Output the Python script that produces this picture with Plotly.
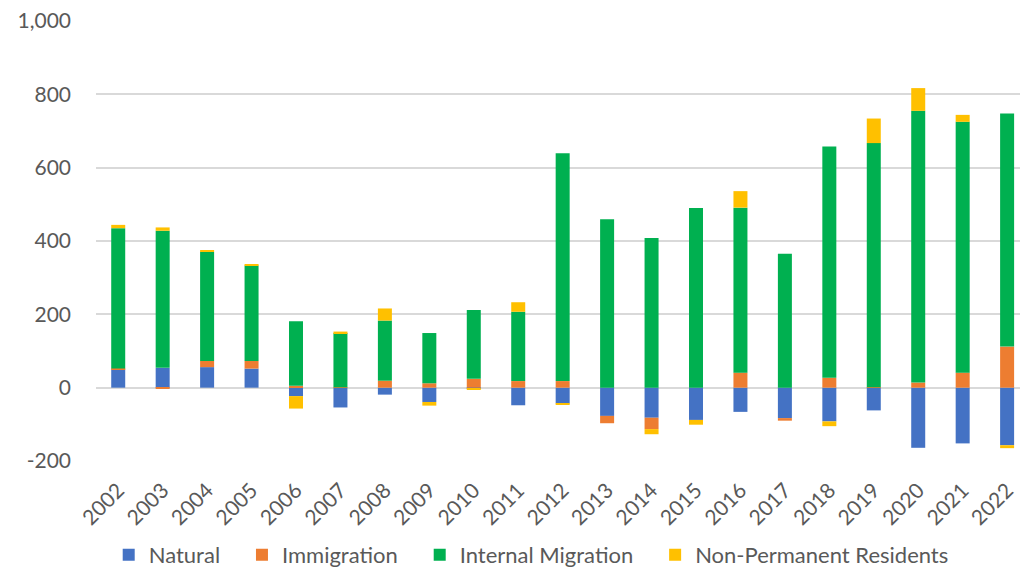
import plotly.graph_objects as go

# Components of population change by year (thousands)
years = [str(y) for y in range(2002, 2023)]
natural = [50, 54, 56, 52, -23, -54, -19, -39, -1, -48, -43, -77, -82, -88, -66, -83, -92, -62, -164, -152, -157]
immigration = [2, -3, 17, 21, 5, 1, 19, 12, 24, 18, 18, -20, -31, 0, 41, -7, 27, 1, 14, 41, 112]
internal_migration = [383, 374, 298, 260, 176, 148, 164, 137, 188, 189, 621, 459, 408, 490, 450, 365, 631, 666, 741, 684, 636]
non_permanent = [9, 9, 3, 3, -34, 4, 33, -10, -5, 26, -2, 0, -14, -13, 45, 0, -13, 67, 62, 19, -8]

series = [
    ("Natural", natural, "#4472C4"),
    ("Immigration", immigration, "#ED7D31"),
    ("Internal Migration", internal_migration, "#00B050"),
    ("Non-Permanent Residents", non_permanent, "#FFC000"),
]

FONT = "Lato"
GREY = "#595959"
PAD = "\u00a0" * 3

fig = go.Figure()
for i, (name, vals, color) in enumerate(series):
    label = name + (PAD if i < len(series) - 1 else "")
    fig.add_trace(go.Bar(
        x=years, y=vals, name=label,
        marker=dict(color=color, line=dict(width=0)),
    ))

fig.update_layout(
    width=1020, height=568,
    margin=dict(l=96, r=0, t=21, b=107, autoexpand=False),
    barmode="relative",
    bargap=0.685,
    plot_bgcolor="white",
    paper_bgcolor="white",
    font=dict(family=FONT, size=21, color=GREY),
    showlegend=True,
    legend=dict(
        orientation="h",
        x=0.471, xanchor="center",
        y=-0.166, yanchor="top",
        font=dict(family=FONT, size=22, color=GREY),
        itemwidth=30,
        traceorder="normal",
    ),
    xaxis=dict(
        type="category",
        range=[-0.5, 20.29],
        tickangle=-45,
        showgrid=False,
        showline=False,
        ticks="",
        automargin=False,
        ticklabelstandoff=12,
        tickfont=dict(family=FONT, size=21, color=GREY),
    ),
    yaxis=dict(
        range=[-200, 1000],
        tickvals=[-200, 0, 200, 400, 600, 800, 1000],
        ticktext=["-200", "0", "200", "400", "600", "800", "1,000"],
        showgrid=True,
        gridcolor="#D9D9D9",
        gridwidth=1.5,
        zeroline=True,
        zerolinecolor="#D9D9D9",
        zerolinewidth=1.5,
        showline=False,
        ticks="",
        automargin=False,
        ticklabelstandoff=24,
        tickfont=dict(family=FONT, size=21, color=GREY),
    ),
)

fig.write_html("out.html")
